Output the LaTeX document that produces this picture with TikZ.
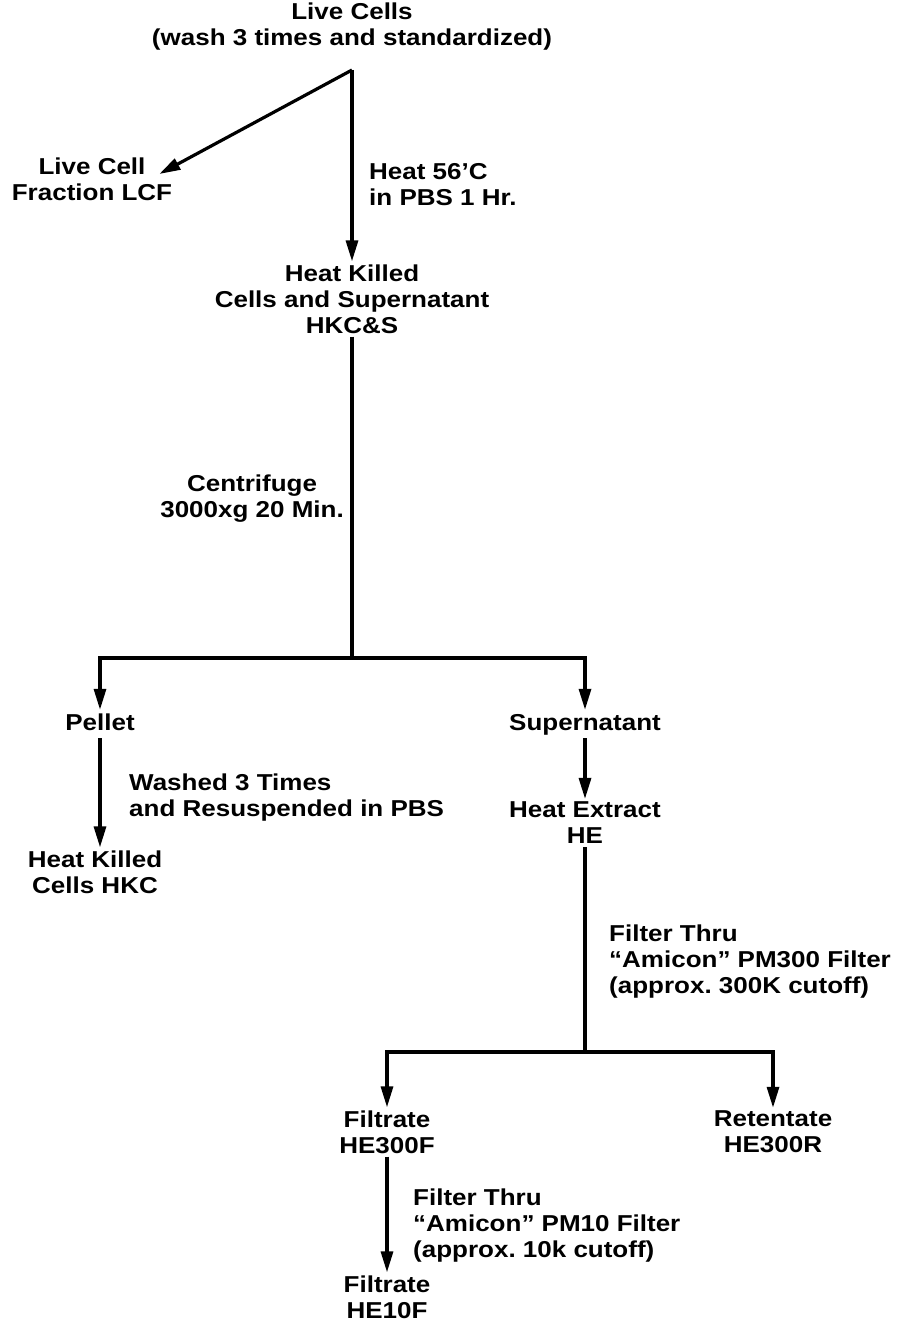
\documentclass[tikz,border=0pt]{standalone}
\usepackage{fontspec}
\setmainfont{Liberation Sans}[FakeStretch=1.13]
\usepackage{tikz}
\usetikzlibrary{arrows.meta, positioning, calc}

\begin{document}
\frenchspacing
\begin{tikzpicture}[
  x=1pt, y=-1pt,
  txt/.style={align=center, inner sep=3pt,
    font=\fontsize{23}{26}\selectfont\bfseries},
  one/.style={txt, text height=17pt, text depth=5pt},
  note/.style={txt, align=left, anchor=west},
  arr/.style={-{Triangle[length=21pt, width=12pt]}, line width=3.2pt},
  ln/.style={line width=3.2pt}
]
  \useasboundingbox (0,0) rectangle (919,1324);

  % main fractions
  \node[txt] (live) at (352,27) {Live Cells\\(wash 3 times and standardized)};
  \node[txt] (lcf) at (92,179) {Live Cell\\Fraction LCF};
  \node[txt] (hkcs) at (352,299) {Heat Killed\\Cells and Supernatant\\HKC\&S};
  \node[one] (pellet) at (100,724) {Pellet};
  \node[one] (super) at (585,724) {Supernatant};
  \node[txt] (hkc) at (95,872) {Heat Killed\\Cells HKC};
  \node[txt] (he) at (585,823) {Heat Extract\\HE};
  \node[txt] (f300) at (387,1132) {Filtrate\\HE300F};
  \node[txt] (r300) at (773,1132) {Retentate\\HE300R};
  \node[txt] (f10) at (387,1297) {Filtrate\\HE10F};

  % junctions
  \coordinate (split) at (352,70);
  \coordinate (spin) at (352,658);
  \coordinate (filt) at (585,1052);

  % step labels
  \node[note] (heat) at (366,185) {Heat 56'C\\in PBS 1 Hr.};
  \node[txt, anchor=east] (cent) at (347,499) {Centrifuge\\3000xg 20 Min.};
  \node[note] (wash) at (126,798) {Washed 3 Times\\and Resuspended in PBS};
  \node[note] (pm300) at (606,962) {Filter Thru\\“Amicon” PM300 Filter\\(approx. 300K cutoff)};
  \node[note] (pm10) at (410,1226) {Filter Thru\\“Amicon” PM10 Filter\\(approx. 10k cutoff)};

  \draw[arr] (split) -- ([xshift=-16pt, yshift=5pt]lcf.east);
  \draw[arr] (split) -- (hkcs.north);
  \draw[ln] (hkcs.south) -- (spin);
  \draw[arr] (spin) -| (pellet.north);
  \draw[arr] (spin) -| (super.north);
  \draw[arr] (pellet.south) -- (hkc.north -| pellet);
  \draw[arr] (super.south) -- (he.north);
  \draw[ln] (he.south) -- (filt);
  \draw[arr] (filt) -| (f300.north);
  \draw[arr] (filt) -| (r300.north);
  \draw[arr] (f300.south) -- (f10.north);
\end{tikzpicture}
\end{document}
